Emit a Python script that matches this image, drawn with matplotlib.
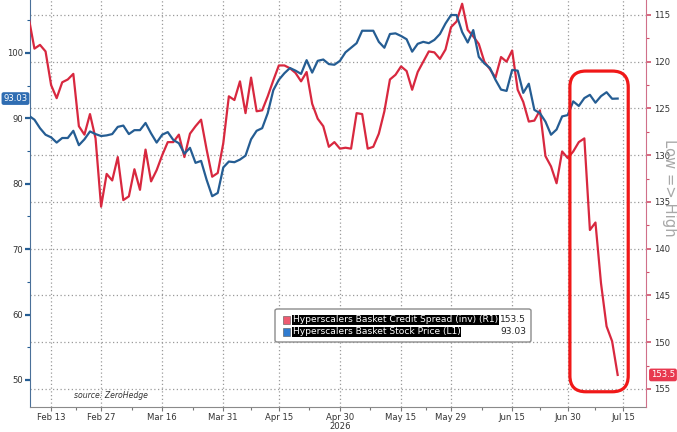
import numpy as np
import pandas as pd
import matplotlib
matplotlib.use("Agg")
import matplotlib.pyplot as plt
from matplotlib import font_manager
from matplotlib.patches import FancyBboxPatch, Rectangle
from matplotlib.transforms import blended_transform_factory
from matplotlib.ticker import FixedLocator

# ---------------- data ----------------
market_holidays = ["2026-02-16", "2026-04-03", "2026-05-25", "2026-06-19", "2026-07-03"]
first_day = "2026-02-09"
axis_end_day = "2026-07-15"
tick_dates = ["2026-02-13", "2026-02-27", "2026-03-16", "2026-03-31", "2026-04-15",
              "2026-04-30", "2026-05-15", "2026-05-29", "2026-06-15", "2026-06-30", "2026-07-15"]
tick_labels = ["Feb 13", "Feb 27", "Mar 16", "Mar 31", "Apr 15", "Apr 30\n2026",
               "May 15", "May 29", "Jun 15", "Jun 30", "Jul 15"]

stock_price = [
    90.4, 89.8, 88.5, 87.5, 87.1, 86.3, 87.0, 87.0, 88.1, 85.9,
    86.8, 88.0, 87.6, 87.3, 87.4, 87.6, 88.7, 88.9, 87.6, 88.2,
    88.2, 89.3, 87.7, 86.3, 87.5, 87.9, 86.7, 86.2, 84.6, 85.5,
    83.2, 83.5, 80.6, 78.1, 78.6, 82.5, 83.4, 83.3, 83.7, 84.3,
    86.8, 88.1, 88.5, 90.8, 94.3, 95.9, 96.9, 97.7, 97.3, 96.8,
    98.9, 97.0, 98.8, 99.0, 98.3, 98.2, 98.8, 100.1, 100.8, 101.5,
    103.4, 103.4, 103.4, 101.7, 100.8, 102.9, 103.0, 102.6, 102.1, 100.2,
    101.4, 101.7, 101.5, 102.0, 102.9, 104.5, 105.8, 105.8, 103.2, 101.6,
    103.5, 99.4, 98.4, 97.7, 95.9, 94.4, 94.2, 97.4, 97.3, 93.9,
    95.3, 91.3, 90.8, 89.5, 87.5, 88.3, 90.3, 90.5, 92.6, 91.9,
    93.1, 93.6, 92.4, 93.4, 94.0, 93.0, 93.03,
]

credit_spread = [
    115.4, 118.6, 118.2, 118.9, 122.5, 123.9, 122.2, 121.9, 121.3, 126.9,
    127.8, 125.6, 128.2, 135.5, 132.0, 132.7, 130.2, 134.8, 134.4, 131.5,
    133.7, 129.4, 132.8, 131.6, 130.0, 128.6, 128.6, 127.8, 130.2, 127.7,
    126.9, 126.2, 129.4, 132.3, 131.9, 128.7, 123.7, 124.1, 122.1, 125.5,
    121.7, 125.3, 125.2, 123.7, 122.0, 120.4, 120.4, 120.7, 121.2, 122.1,
    121.1, 124.5, 126.1, 126.9, 129.1, 128.6, 129.3, 129.2, 129.3, 125.5,
    125.6, 129.3, 129.1, 127.7, 125.3, 121.9, 121.4, 120.5, 121.0, 123.0,
    121.1, 120.0, 118.9, 119.0, 119.7, 118.7, 116.3, 115.7, 113.8, 116.6,
    117.3, 118.1, 120.0, 120.8, 121.7, 119.5, 120.0, 118.8, 123.0, 124.3,
    126.4, 126.3, 125.2, 130.1, 131.2, 133.0, 129.6, 130.3, 129.6, 128.6,
    128.2, 138.0, 137.2, 143.7, 148.3, 149.9, 153.5,
]

left_ticks = [50, 60, 70, 80, 90, 100]
right_ticks = [115, 120, 125, 130, 135, 140, 145, 150, 155]
spread_label = "Hyperscalers Basket Credit Spread (inv) (R1)"
stock_label = "Hyperscalers Basket Stock Price (L1)"
spread_value_text = "153.5"
stock_value_text = "93.03"
highlight_start = "2026-06-30"
highlight_end = "2026-07-15"
highlight_spread_range = (121.0, 155.3)

# ---------------- style ----------------
available = {f.name for f in font_manager.fontManager.ttflist}
if "Liberation Sans Narrow" in available:
    FONT, k = "Liberation Sans Narrow", 1.0
else:
    FONT, k = "DejaVu Sans", 0.76
plt.rcParams["font.family"] = [FONT, "DejaVu Sans"]

RED = "#d8283f"
BLUE = "#255d93"
GRID = "#9a9a9a"
TXT = "#333333"

# trading-day calendar (positions on x axis)
days = [d for d in pd.bdate_range(first_day, axis_end_day)
        if d.strftime("%Y-%m-%d") not in market_holidays]
pos = {d.strftime("%Y-%m-%d"): i for i, d in enumerate(days)}
x = np.arange(len(stock_price))
tick_pos = [pos[t] for t in tick_dates]
minor_pos = [(a + b) / 2 for a, b in zip(tick_pos[:-1], tick_pos[1:])]

W, H = 677, 432
fig = plt.figure(figsize=(W / 100, H / 100), dpi=100)
fig.patch.set_facecolor("white")
ax = fig.add_axes([30 / W, 25 / H, 616 / W, 407 / H])
ax2 = ax.twinx()

XL = (0.2, 111.1)
YL_LEFT = (45.87, 108.1)
YL_RIGHT = (156.93, 113.4)
ax.set_xlim(*XL)
ax.set_ylim(*YL_LEFT)
ax2.set_ylim(*YL_RIGHT)

# grids
ax.set_xticks(tick_pos)
ax.set_xticklabels(tick_labels, fontsize=8 * k, color=TXT, linespacing=1.0)
ax.xaxis.set_minor_locator(FixedLocator(minor_pos))
ax.grid(axis="x", color=GRID, linestyle=(0, (1, 2)), linewidth=0.9)
hline_tr = blended_transform_factory(ax.transAxes, ax2.transData)
for t in right_ticks:
    ax.plot([0, 1], [t, t], transform=hline_tr, color=GRID,
            linestyle=(0, (1, 2)), linewidth=0.9, zorder=1)

# series (both drawn in ax so the blue sits above the red)
ax.plot(x, credit_spread, color=RED, linewidth=1.6, transform=
        blended_transform_factory(ax.transData, ax2.transData), zorder=3,
        solid_joinstyle="round")
ax.plot(x, stock_price, color=BLUE, linewidth=1.6, zorder=4, solid_joinstyle="round")

# axes styling
ax.set_yticks(left_ticks)
ax.set_yticklabels([str(v) for v in left_ticks], fontsize=8 * k, color=TXT)
ax.yaxis.set_minor_locator(FixedLocator([55, 65, 75, 85, 95, 105]))
ax2.set_yticks(right_ticks)
ax2.set_yticklabels([str(v) for v in right_ticks], fontsize=8 * k, color=TXT)
ax2.yaxis.set_minor_locator(FixedLocator([117.5 + 5 * i for i in range(8)]))

ax.tick_params(axis="y", which="major", length=3.5, width=1.6, color=BLUE, pad=1.5)
ax.tick_params(axis="y", which="minor", length=2, width=0.8, color=BLUE)
ax.tick_params(axis="x", which="major", length=3, width=0.8, color="#777777", pad=1.5)
ax.tick_params(axis="x", which="minor", length=2, width=0.8, color="#777777")
ax2.tick_params(axis="y", which="major", length=3.5, width=1.2, color="#d0506a", pad=2)
ax2.tick_params(axis="y", which="minor", length=2, width=0.8, color="#d0506a")

for a in (ax, ax2):
    a.spines["top"].set_visible(False)
ax.spines["left"].set_color("#4a7099")
ax2.spines["left"].set_visible(False)
ax2.spines["bottom"].set_visible(False)
ax2.spines["right"].set_color("#d0708a")
ax.spines["right"].set_visible(False)
ax.spines["bottom"].set_color("#8a8a8a")

# highlight box round the last two weeks
def fx(j):
    return (j - XL[0]) / (XL[1] - XL[0])

def fy_right(v):
    return (YL_RIGHT[0] - v) / (YL_RIGHT[0] - YL_RIGHT[1])

hx0 = fx(pos[highlight_start] + 0.4)
hx1 = fx(pos[highlight_end] + 0.9)
hy0 = fy_right(highlight_spread_range[1])
hy1 = fy_right(highlight_spread_range[0])
box = FancyBboxPatch((hx0, hy0), hx1 - hx0, hy1 - hy0,
                     boxstyle="round,pad=0,rounding_size=0.026",
                     mutation_aspect=616 / 407, transform=ax.transAxes,
                     fill=False, edgecolor="#f01818", linewidth=2.3, zorder=6,
                     clip_on=False)
ax.add_patch(box)

# last value tags
ax.text(-0.004, stock_price[-1], stock_value_text,
        transform=blended_transform_factory(ax.transAxes, ax.transData),
        ha="right", va="center", fontsize=8 * k, color="white", zorder=10,
        bbox=dict(boxstyle="round,pad=0.22,rounding_size=0.25", fc="#2f6db2", ec="none"),
        clip_on=False)
ax.text(1.008, credit_spread[-1], spread_value_text,
        transform=blended_transform_factory(ax.transAxes, ax2.transData),
        ha="left", va="center", fontsize=8 * k, color="white", zorder=10,
        bbox=dict(boxstyle="round,pad=0.22,rounding_size=0.25", fc="#e8384f", ec="none"),
        clip_on=False)

# legend (Bloomberg style)
lx0, lx1 = (275 - 30) / 616, (531 - 30) / 616
ly0, ly1 = (407 - 342) / 407, (407 - 309) / 407
leg = FancyBboxPatch((lx0, ly0), lx1 - lx0, ly1 - ly0,
                     boxstyle="round,pad=0,rounding_size=0.004",
                     transform=ax.transAxes, facecolor="white",
                     edgecolor="#8c8c8c", linewidth=1.0, zorder=7)
ax.add_patch(leg)
rows = [(spread_label, spread_value_text, "#ee5a70", (407 - 320) / 407),
        (stock_label, stock_value_text, "#2f7bd0", (407 - 332) / 407)]
for label, val, col, yc in rows:
    ax.add_patch(Rectangle(((283 - 30) / 616, yc - 4 / 407), 7 / 616, 8 / 407,
                           transform=ax.transAxes, facecolor=col,
                           edgecolor="#555555", linewidth=0.4, zorder=8))
    ax.text((293 - 30) / 616, yc, label, transform=ax.transAxes,
            ha="left", va="center", fontsize=8.6 * k, color="white", zorder=9,
            bbox=dict(boxstyle="square,pad=0.08", fc="black", ec="none"))
    ax.text((526 - 30) / 616, yc, val, transform=ax.transAxes,
            ha="right", va="center", fontsize=8.6 * k, color="#222222", zorder=9)

# source note
ax.text((74 - 30) / 616, (407 - 396) / 407, "source: ZeroHedge",
        transform=ax.transAxes, ha="left", va="center", fontsize=7.3 * k,
        style="italic", color="#333333", zorder=9)

# right-side annotation
fig.text(669 / W, 1 - 188 / H, "Low => High", rotation=-90, ha="center",
         va="center", fontsize=14 * k, color="#a8a8a8")

fig.savefig("out.png", dpi=100, facecolor="white")
